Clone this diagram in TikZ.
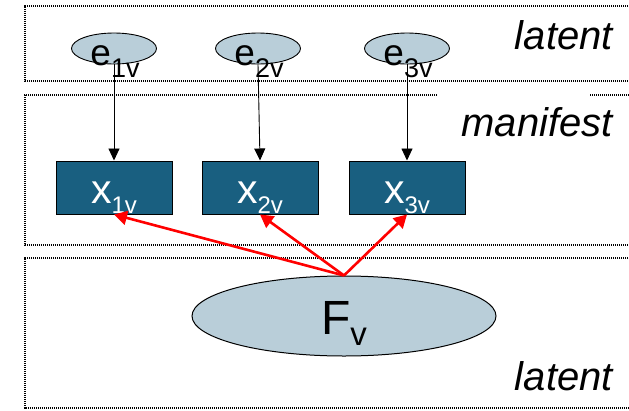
\documentclass[tikz,border=0pt]{standalone}
\usepackage{fontspec}
\setmainfont{Liberation Sans}
\usetikzlibrary{shapes.geometric,arrows.meta}
\definecolor{ellfill}{RGB}{185,206,217}
\definecolor{boxfill}{RGB}{25,95,128}
\definecolor{arrred}{RGB}{255,0,0}
\begin{document}
\begin{tikzpicture}[x=1pt,y=-1pt,
  region/.style={draw, line width=1.2pt, dash pattern=on 1.1pt off 0.9pt},
  errell/.style={ellipse, draw, line width=0.9pt, fill=ellfill, minimum width=85pt, minimum height=31pt, inner sep=0pt},
  factell/.style={ellipse, draw, line width=1pt, fill=ellfill, minimum width=304pt, minimum height=80pt, inner sep=0pt},
  mbox/.style={rectangle, draw, line width=1pt, fill=boxfill, minimum width=116pt, minimum height=53pt, inner sep=0pt},
  elabel/.style={anchor=base, inner sep=0pt, font=\fontsize{37}{37}\selectfont},
  xlabel/.style={anchor=base, inner sep=0pt, text=white, font=\fontsize{41}{41}\selectfont},
  flabel/.style={anchor=base, inner sep=0pt, font=\fontsize{48}{48}\selectfont},
  region label/.style={anchor=base east, inner sep=0pt, font=\fontsize{40}{40}\selectfont\itshape},
  blackarrow/.style={draw, line width=0.9pt, -{Triangle[length=12pt,width=11pt]}},
  redarrow/.style={draw=arrred, line width=2.6pt, -{Triangle[length=13pt,width=14pt]}}
]
\useasboundingbox (0,0) rectangle (629,410);
\clip (0,0) rectangle (629,410);

% regions
\draw[region] (640,6) -- (25,6) -- (25,81) -- (640,81);
\draw[region] (437,95) -- (25,95) -- (25,245) -- (640,245);
\draw[region] (590,95) -- (640,95);
\draw[region] (640,258) -- (25,258) -- (25,408) -- (640,408);

\node[region label] (lt) at (613,49) {latent};
\node[region label] (mf) at (613,136) {manifest};
\node[region label] (lb) at (613,390) {latent};

% error terms
\node[errell] (e1) at (114,48.5) {};
\node[errell] (e2) at (258,48.5) {};
\node[errell] (e3) at (407,48.5) {};

% manifest boxes
\node[mbox] (x1) at (114,187.5) {};
\node[mbox] (x2) at (260,187.5) {};
\node[mbox] (x3) at (407,187.5) {};

% factor
\node[factell] (F) at (344,316) {};

% arrows
\draw[blackarrow] (e1.south) -- (x1.north);
\draw[blackarrow] (e2.south) -- (x2.north);
\draw[blackarrow] (e3.south) -- (x3.north);

% labels
\node[elabel] (te1) at (115,65) {e\raisebox{-12pt}{\fontsize{27}{27}\selectfont 1v}};
\node[elabel] (te2) at (259,65) {e\raisebox{-12pt}{\fontsize{27}{27}\selectfont 2v}};
\node[elabel] (te3) at (408,65) {e\raisebox{-12pt}{\fontsize{27}{27}\selectfont 3v}};

\node[xlabel] (tx1) at (114,203) {x\raisebox{-10pt}{\fontsize{24}{24}\selectfont 1v}};
\node[xlabel] (tx2) at (260,203) {x\raisebox{-10pt}{\fontsize{24}{24}\selectfont 2v}};
\node[xlabel] (tx3) at (407,203) {x\raisebox{-10pt}{\fontsize{24}{24}\selectfont 3v}};

\node[flabel] (tF) at (344,334) {F\raisebox{-11pt}{\fontsize{33}{33}\selectfont v}};

\draw[redarrow] (F.north) -- (x1.south);
\draw[redarrow] (F.north) -- (x2.south);
\draw[redarrow] (F.north) -- (x3.south);
\end{tikzpicture}
\end{document}
